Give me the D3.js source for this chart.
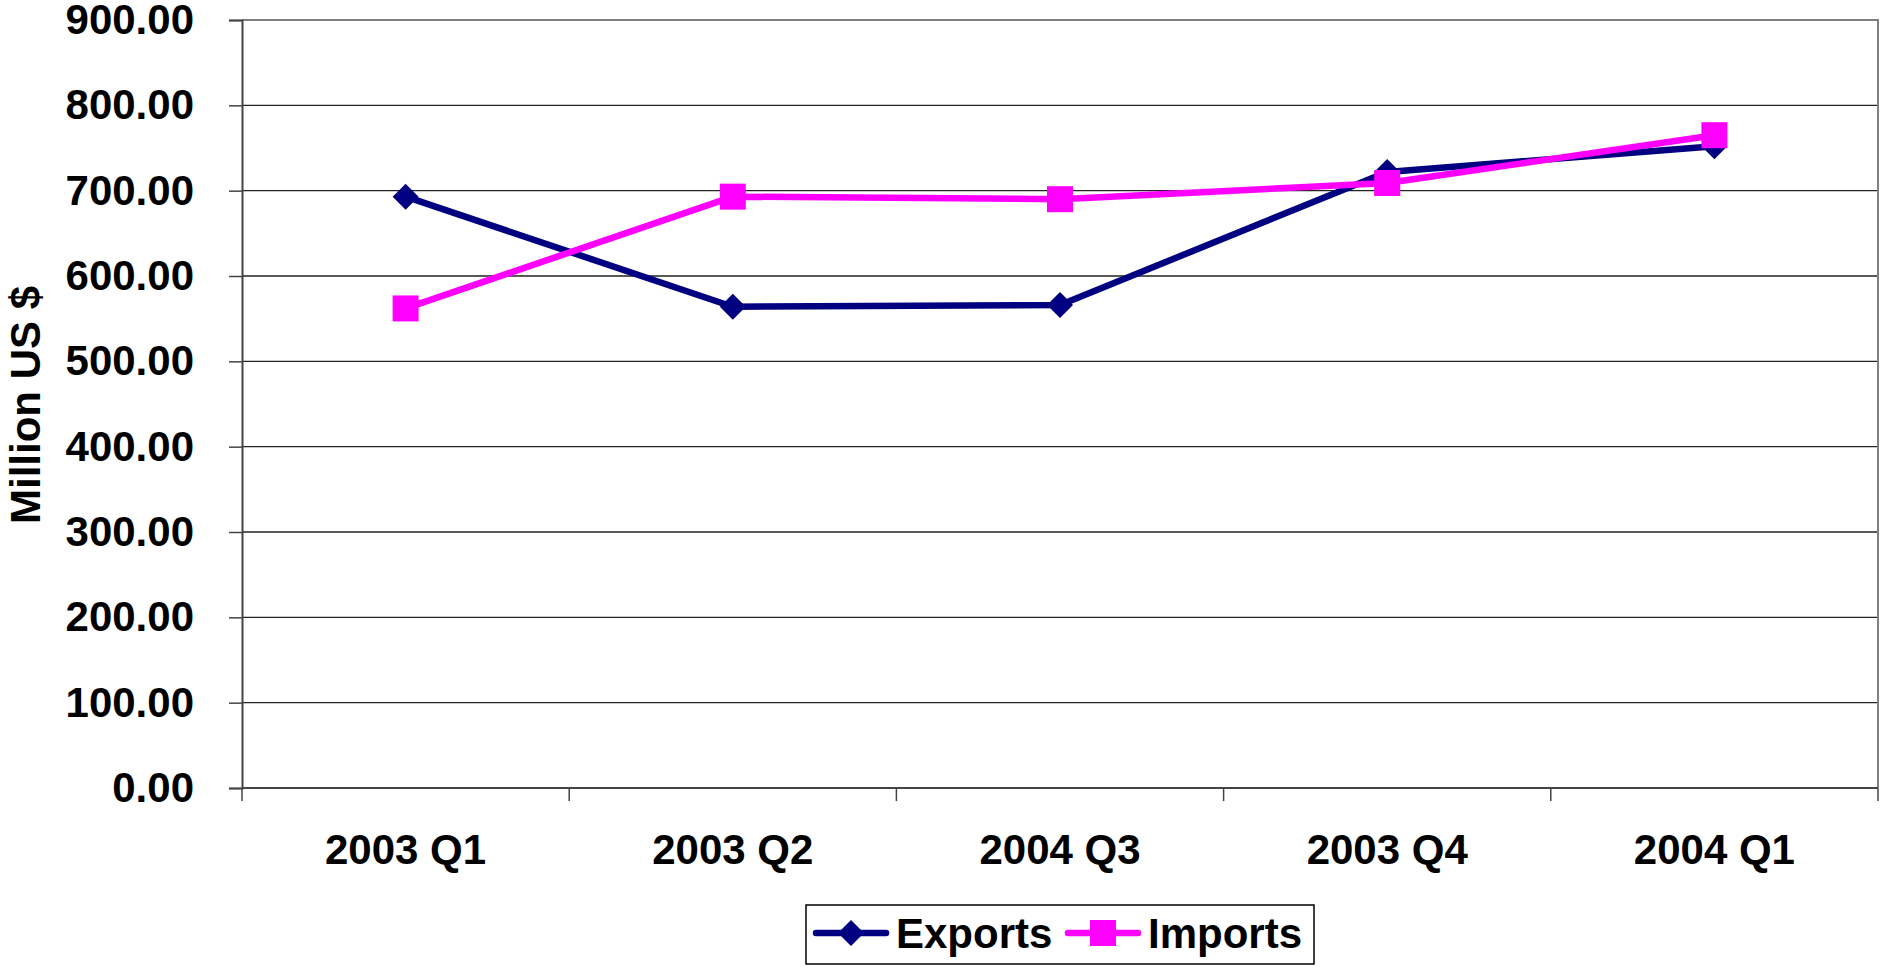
<!DOCTYPE html>
<meta charset="utf-8">
<script src="https://d3js.org/d3.v7.min.js"></script>
<style>
  body { margin: 0; background: #fff; }
  text { font-family: "Liberation Sans", Arial, sans-serif; font-weight: bold; fill: #000; }
</style>
<svg></svg>
<script>

// DATA

var categories = ["2003 Q1", "2003 Q2", "2004 Q3", "2003 Q4", "2004 Q1"];
var exportsVals = [693, 564, 566, 722, 752];
var importsVals = [562, 693, 690, 709, 765];
var yTicks = [0, 100, 200, 300, 400, 500, 600, 700, 800, 900];

var width = 1881;
var height = 970;

var margin = { top: 20, left: 242, right: 3, bottom: 182 };

var svg = d3.select("svg")
    .attr("width", width)
    .attr("height", height);

// SCALES

var x = d3.scaleBand()
    .domain(categories)
    .range([margin.left, width - margin.right])
    .padding(0);

var y = d3.scaleLinear()
    .domain([0, 900])
    .range([height - margin.bottom, margin.top]);

var cx = function(d) { return x(d) + x.bandwidth() / 2; };

// GRID

svg.append("g")
    .selectAll("line")
    .data(yTicks.filter(function(d) { return d > 0 && d < 900; }))
    .enter().append("line")
        .attr("x1", margin.left)
        .attr("x2", width - margin.right)
        .attr("y1", function(d) { return y(d); })
        .attr("y2", function(d) { return y(d); })
        .attr("stroke", "#222")
        .attr("stroke-width", 1.3);

// plot border top / right
svg.append("path")
    .attr("d", "M" + margin.left + "," + y(900) + "H" + (width - margin.right) + "V" + y(0))
    .attr("fill", "none")
    .attr("stroke", "#808080")
    .attr("stroke-width", 2);

// AXES

var yAxis = svg.append("g")
    .attr("transform", "translate(" + margin.left + ",0)")
    .call(d3.axisLeft(y)
        .tickValues(yTicks)
        .tickFormat(d3.format(".2f"))
        .tickSize(13)
        .tickPadding(35));

yAxis.select(".domain").attr("stroke", "#444").attr("stroke-width", 2);
yAxis.selectAll(".tick line").attr("stroke", "#444").attr("stroke-width", 1.5);
yAxis.selectAll(".tick text")
    .attr("font-size", 42)
    .attr("font-family", "Liberation Sans, Arial, sans-serif")
    .attr("font-weight", "bold")
    .attr("fill", "#000");

var xAxis = svg.append("g")
    .attr("transform", "translate(0," + y(0) + ")");

xAxis.append("line")
    .attr("x1", margin.left)
    .attr("x2", width - margin.right)
    .attr("stroke", "#444")
    .attr("stroke-width", 2);

var bounds = categories.map(function(d) { return x(d); }).concat([x.range()[1]]);

xAxis.selectAll("line.tk")
    .data(bounds)
    .enter().append("line")
        .attr("class", "tk")
        .attr("x1", function(d) { return d; })
        .attr("x2", function(d) { return d; })
        .attr("y1", 0)
        .attr("y2", 13)
        .attr("stroke", "#444")
        .attr("stroke-width", 1.5);

xAxis.selectAll("text")
    .data(categories)
    .enter().append("text")
        .attr("x", cx)
        .attr("y", 76)
        .attr("text-anchor", "middle")
        .attr("font-size", 42)
        .text(function(d) { return d; });

// Y TITLE

svg.append("text")
    .attr("transform", "translate(40,405) rotate(-90)")
    .attr("text-anchor", "middle")
    .attr("font-size", 42)
    .text("Million US $");

// LINES

var series = [
    { name: "Exports", values: exportsVals, color: "#000080", symbol: d3.symbolDiamond, rot: 45 },
    { name: "Imports", values: importsVals, color: "#FF00FF", symbol: d3.symbolSquare, rot: 0 }
];

var line = d3.line()
    .x(function(d, i) { return cx(categories[i]); })
    .y(function(d) { return y(d); });

series.forEach(function(s) {
    var g = svg.append("g");

    g.append("path")
        .datum(s.values)
        .attr("d", line)
        .attr("fill", "none")
        .attr("stroke", s.color)
        .attr("stroke-width", 6.5)
        .attr("stroke-linejoin", "round");

    g.selectAll(".pt")
        .data(s.values)
        .enter().append("path")
            .attr("class", "pt")
            .attr("transform", function(d, i) {
                return "translate(" + cx(categories[i]) + "," + y(d) + ")";
            })
            .attr("d", s.name === "Exports"
                ? "M0,-13L13,0L0,13L-13,0Z"
                : "M-13,-13H13V13H-13Z")
            .attr("fill", s.color);
});

// LEGEND

var legend = svg.append("g")
    .attr("transform", "translate(806,905)");

legend.append("rect")
    .attr("width", 508)
    .attr("height", 59)
    .attr("fill", "#fff")
    .attr("stroke", "#000")
    .attr("stroke-width", 1.5);

var legendX = [10, 262];

series.forEach(function(s, i) {
    var lg = legend.append("g")
        .attr("transform", "translate(" + legendX[i] + ",28)");

    lg.append("line")
        .attr("x1", 0)
        .attr("x2", 70)
        .attr("stroke", s.color)
        .attr("stroke-width", 6.5)
        .attr("stroke-linecap", "round");

    lg.append("path")
        .attr("transform", "translate(35,0)")
        .attr("d", s.name === "Exports"
            ? "M0,-13L13,0L0,13L-13,0Z"
            : "M-13,-13H13V13H-13Z")
        .attr("fill", s.color);

    lg.append("text")
        .attr("x", 80)
        .attr("y", 15)
        .attr("font-size", 42)
        .text(s.name);
});

</script>
